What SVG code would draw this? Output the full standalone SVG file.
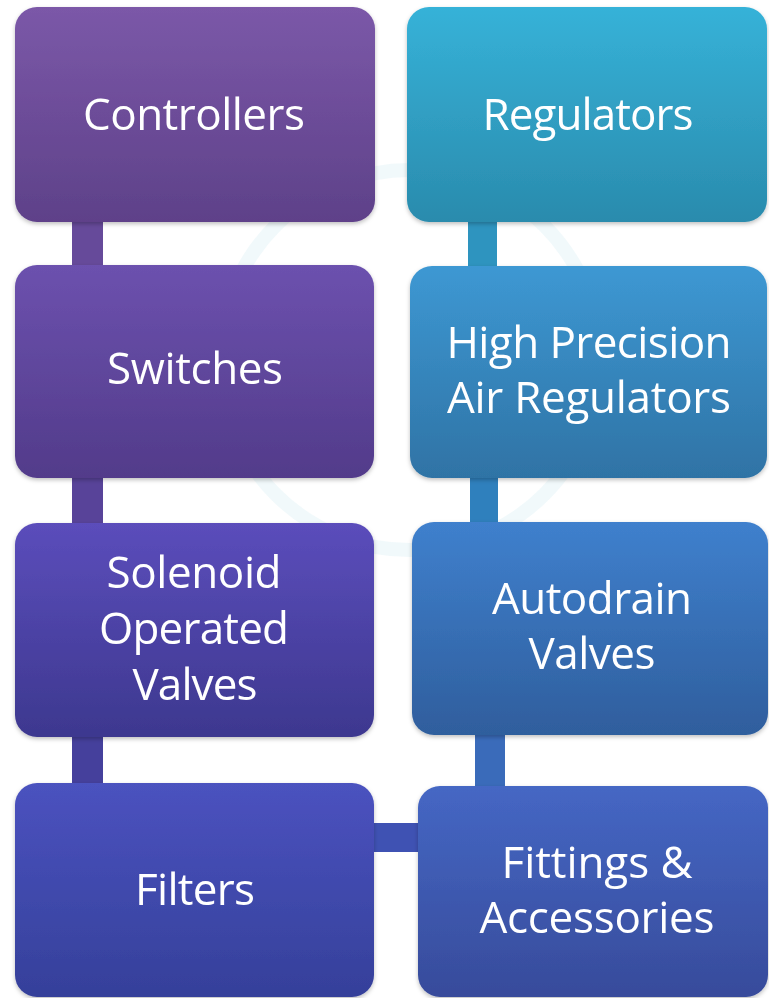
<svg xmlns="http://www.w3.org/2000/svg" width="769" height="998" viewBox="0 0 769 998">
<defs>
<style>
.lbl{font-family:"Open Sans","Noto Sans","DejaVu Sans",sans-serif;font-size:44px;fill:#ffffff;text-anchor:middle}
.box{filter:url(#sh)}
</style>
<filter id="sh" x="-5%" y="-5%" width="110%" height="112%">
<feDropShadow dx="0" dy="2" stdDeviation="2" flood-color="#000" flood-opacity="0.25"/>
</filter>
<linearGradient id="g1" x1="0" y1="0" x2="0" y2="1"><stop offset="0" stop-color="#7b58a8"/><stop offset="1" stop-color="#5e4189"/></linearGradient>
<linearGradient id="g2" x1="0" y1="0" x2="0" y2="1"><stop offset="0" stop-color="#6c51ae"/><stop offset="1" stop-color="#523b8a"/></linearGradient>
<linearGradient id="g3" x1="0" y1="0" x2="0" y2="1"><stop offset="0" stop-color="#5b4dbb"/><stop offset="1" stop-color="#3d388f"/></linearGradient>
<linearGradient id="g4" x1="0" y1="0" x2="0" y2="1"><stop offset="0" stop-color="#4b52bf"/><stop offset="1" stop-color="#35409a"/></linearGradient>
<linearGradient id="g5" x1="0" y1="0" x2="0" y2="1"><stop offset="0" stop-color="#36b2d8"/><stop offset="1" stop-color="#2a8bad"/></linearGradient>
<linearGradient id="g6" x1="0" y1="0" x2="0" y2="1"><stop offset="0" stop-color="#3d98d3"/><stop offset="1" stop-color="#2f73a5"/></linearGradient>
<linearGradient id="g7" x1="0" y1="0" x2="0" y2="1"><stop offset="0" stop-color="#3f80cd"/><stop offset="1" stop-color="#2f5e9d"/></linearGradient>
<linearGradient id="g8" x1="0" y1="0" x2="0" y2="1"><stop offset="0" stop-color="#4567c4"/><stop offset="1" stop-color="#374b9b"/></linearGradient>
</defs>
<rect width="769" height="998" fill="#ffffff"/>
<circle cx="410" cy="360" r="190" fill="none" stroke="#d6eff3" stroke-width="14" opacity="0.35"/>
<g id="connectors">
<rect x="72" y="215" width="31" height="58" fill="#664a9a"/>
<rect x="72" y="472" width="31" height="58" fill="#584399"/>
<rect x="72" y="730" width="31" height="60" fill="#45409c"/>
<rect x="468" y="215" width="29" height="58" fill="#2e94bf"/>
<rect x="470" y="472" width="28" height="56" fill="#2f80bd"/>
<rect x="475" y="728" width="30" height="64" fill="#3a6bba"/>
<rect x="365" y="823" width="60" height="29" fill="#3f52b3"/>
</g>
<g id="n-controllers" class="box"><rect x="15" y="7" width="360" height="215" rx="22" fill="url(#g1)"/><text class="lbl" x="194" y="130" textLength="222">Controllers</text></g>
<g id="n-switches" class="box"><rect x="15" y="265" width="359" height="213" rx="22" fill="url(#g2)"/><text class="lbl" x="195" y="384" textLength="176">Switches</text></g>
<g id="n-solenoid" class="box"><rect x="15" y="523" width="359" height="214" rx="22" fill="url(#g3)"/><text class="lbl" x="194" y="588" textLength="175">Solenoid</text><text class="lbl" x="194" y="644" textLength="190">Operated</text><text class="lbl" x="195" y="700" textLength="125">Valves</text></g>
<g id="n-filters" class="box"><rect x="15" y="783" width="359" height="214" rx="22" fill="url(#g4)"/><text class="lbl" x="195" y="905" textLength="120">Filters</text></g>
<g id="n-regulators" class="box"><rect x="407" y="7" width="360" height="215" rx="22" fill="url(#g5)"/><text class="lbl" x="588" y="130" textLength="211">Regulators</text></g>
<g id="n-hpar" class="box"><rect x="410" y="266" width="357" height="212" rx="22" fill="url(#g6)"/><text class="lbl" x="589" y="358" textLength="285">High Precision</text><text class="lbl" x="589" y="413" textLength="284">Air Regulators</text></g>
<g id="n-autodrain" class="box"><rect x="412" y="522" width="356" height="213" rx="22" fill="url(#g7)"/><text class="lbl" x="592" y="614" textLength="200">Autodrain</text><text class="lbl" x="592" y="669" textLength="127">Valves</text></g>
<g id="n-fittings" class="box"><rect x="418" y="786" width="350" height="211" rx="22" fill="url(#g8)"/><text class="lbl" x="597" y="878" textLength="191">Fittings &amp;</text><text class="lbl" x="597" y="933" textLength="235">Accessories</text></g>
</svg>
